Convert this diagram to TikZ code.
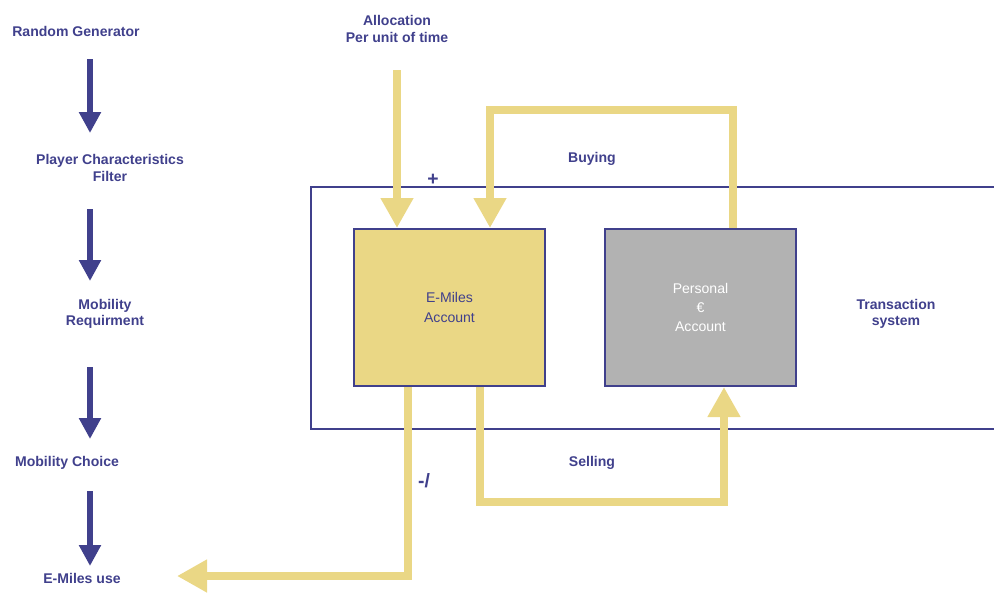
\documentclass[tikz,border=0pt]{standalone}
\usepackage{fontspec}
\setmainfont{Liberation Sans}
\usetikzlibrary{arrows.meta}
\definecolor{ink}{RGB}{64,64,140}
\definecolor{sand}{RGB}{234,215,133}
\definecolor{stone}{RGB}{178,178,178}
\tikzset{
  label/.style={text=ink, font=\fontsize{8}{9.5}\selectfont\bfseries, align=center},
  sign/.style={text=ink, font=\fontsize{11}{12}\selectfont\bfseries},
  flow/.style={draw=ink, line width=1.2mm, -{Triangle[width=4.2mm,length=4.2mm]}},
  money/.style={draw=sand, line width=1.6mm, -{Triangle[width=6.2mm,length=6mm]}},
  account/.style={draw=ink, line width=0.4mm, minimum width=3.82cm, minimum height=3.14cm,
    font=\fontsize{8}{11}\selectfont, align=center}
}
\begin{document}
\begin{tikzpicture}[x=0.2mm, y=-0.2mm]
  \useasboundingbox (0,0) rectangle (994,592);
  % decision chain on the left
  \node[label] (rand) at (76,31) {Random Generator};
  \node[label] (filter) at (110,168) {Player Characteristics\\Filter};
  \node[label] (req) at (105,314) {Mobility\\Requirment};
  \node[label] (choice) at (67,463) {Mobility Choice};
  \node[label] (use) at (82,578) {E-Miles use};
  \draw[flow] (90,59) -- (90,133);
  \draw[flow] (90,209) -- (90,281);
  \draw[flow] (90,367) -- (90,439);
  \draw[flow] (90,491) -- (90,566);
  % transaction system frame
  \coordinate (tsnw) at (311,187);
  \coordinate (tssw) at (311,429);
  \draw[ink, line width=0.4mm] (994,187) -- (tsnw) -- (tssw) -- (994,429);
  \node[label] (tsys) at (896,314) {Transaction\\system};
  % the two accounts
  \node[account, fill=sand, text=ink] (emiles) at (449.5,307.5) {E-Miles\\Account};
  \node[account, fill=stone, text=white] (pers) at (700.5,307.5) {Personal\\€\\Account};
  % allocation in
  \node[label] (alloc) at (397,29) {Allocation\\Per unit of time};
  \draw[money] (397,70) -- (397,228);
  % buying
  \draw[money] (pers.north -| 733,0) |- (490,110) -- (490,228);
  \node[label] (buy) at (592,159) {Buying};
  \node[sign] (plus) at (433,180) {+};
  % selling
  \draw[money] (emiles.south -| 480,0) |- (724,502) -- (pers.south -| 724,0);
  \node[label] (sell) at (592,463) {Selling};
  \node[sign] (minus) at (424,481) {-/};
  % spending
  \coordinate (spent) at (177,576);
  \draw[money] (emiles.south -| 408,0) |- (spent);
\end{tikzpicture}
\end{document}
